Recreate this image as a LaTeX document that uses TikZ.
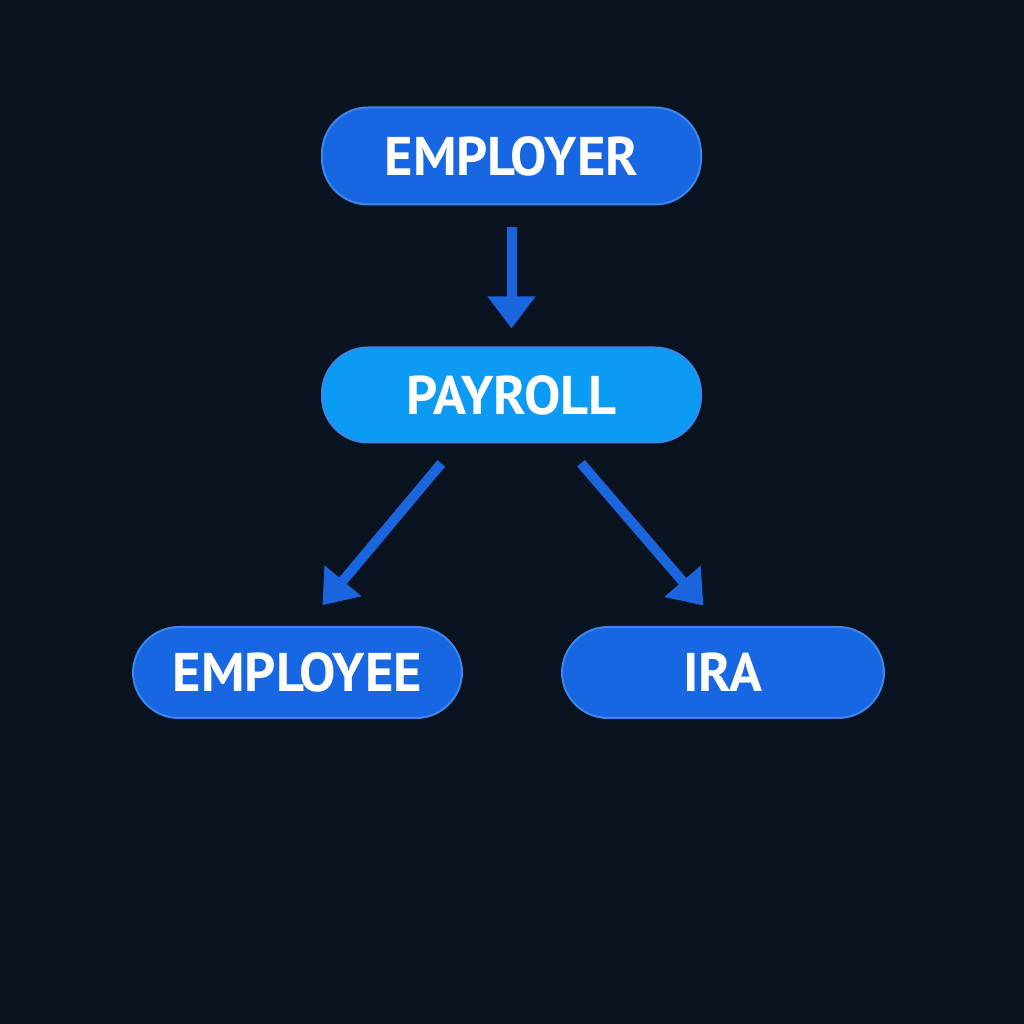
\documentclass[tikz,border=0pt]{standalone}
\usepackage{fontspec}
\setmainfont{PT Sans}
\usepackage{tikz}
\usetikzlibrary{arrows.meta}

\definecolor{bgnavy}{HTML}{0A1320}
\definecolor{boxblue}{HTML}{1767E2}
\definecolor{paybox}{HTML}{0B9BF5}
\definecolor{edgeblue}{HTML}{3F86EC}
\definecolor{arrowblue}{HTML}{1B66DE}

\begin{document}
\begin{tikzpicture}[
  pill/.style={rounded corners=0.46cm, fill=boxblue, draw=edgeblue, line width=.2mm,
    minimum height=0.95cm, text=white, font=\fontsize{15.5}{17}\selectfont\bfseries},
  flow/.style={line width=1mm, draw=arrowblue, -{Triangle[width=0.46cm,length=0.32cm]}}
]
\fill[bgnavy] (0,0) rectangle (10.24,10.24);
\useasboundingbox (0,0) rectangle (10.24,10.24);
\node[pill, minimum width=3.79cm, minimum height=0.97cm] (employer) at (5.115,8.68) {EMPLOYER};
\node[pill, fill=paybox, minimum width=3.79cm] (payroll) at (5.115,6.29) {PAYROLL};
\node[pill, minimum width=3.29cm, minimum height=0.91cm] (employee) at (2.975,3.515) {EMPLOYEE};
\node[pill, minimum width=3.22cm, minimum height=0.91cm] (ira) at (7.23,3.515) {IRA};
\draw[flow, shorten <=0.22cm, shorten >=0.18cm] (employer.south) -- (payroll.north);
\draw[flow, shorten <=0.26cm, shorten >=0.27cm] ([xshift=-0.535cm]payroll.south) -- ([xshift=0.076cm]employee.north);
\draw[flow, shorten <=0.26cm, shorten >=0.27cm] ([xshift=0.525cm]payroll.south) -- ([xshift=-0.02cm]ira.north);
\end{tikzpicture}
\end{document}
